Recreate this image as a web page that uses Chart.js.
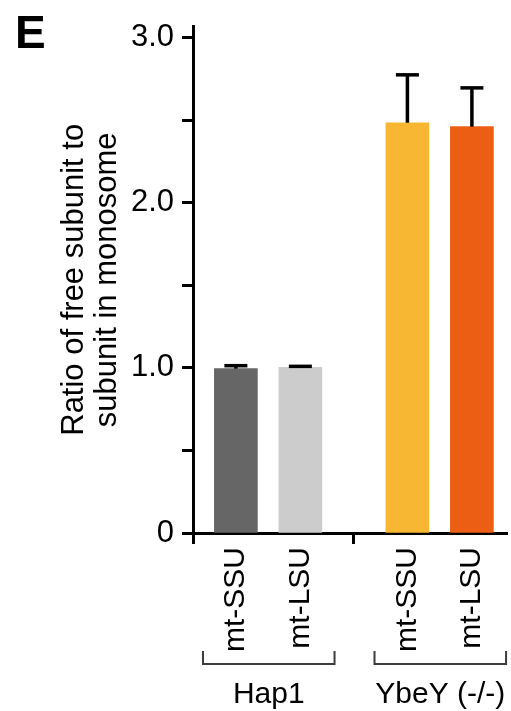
<!DOCTYPE html>
<html>
<head>
<meta charset="utf-8">
<script src="https://cdn.jsdelivr.net/npm/chart.js@4"></script>
<style>
  html, body { margin: 0; padding: 0; background: #fff; }
  #wrap { width: 511px; height: 711px; position: relative; }
</style>
</head>
<body>
<div id="wrap"><canvas id="c"></canvas></div>
<script>
// ---- data ----
const groups = ['Hap1', 'YbeY (-/-)'];
const subunits = ['mt-SSU', 'mt-LSU'];
const values = [0.995, 1.003, 2.484, 2.460];     // mean ratio
const errorsUp = [0.018, 0.006, 0.290, 0.235];   // upper error
const barColors = ['#666666', '#cccccc', '#f7b733', '#eb5e14'];
const yTickValues = [0, 0.5, 1.0, 1.5, 2.0, 2.5, 3.0];
const yTickLabels = ['0', '', '1.0', '', '2.0', '', '3.0'];
const yTitle = ['Ratio of free subunit to', 'subunit in monosome'];
const panelLetter = 'E';

// layout helpers (derived from structure)
const groupStride = 2.66;
const points = [];
groups.forEach((g, gi) => subunits.forEach((s, si) => {
  const i = gi * subunits.length + si;
  points.push({ x: gi * groupStride + si, y: values[i], label: s, group: gi });
}));
const barXs = points.map(p => p.x);
const midX = (barXs[1] + barXs[2]) / 2;
const X_MIN = -0.665, X_MAX = 4.21;
const FONT = '"Liberation Sans", Arial, Helvetica, sans-serif';

const isBarX = v => barXs.some(b => Math.abs(b - v) < 1e-6);

const extras = {
  id: 'extras',
  afterDatasetsDraw(chart) {
    const ctx = chart.ctx;
    const ys = chart.scales.y, xs = chart.scales.x;
    const meta = chart.getDatasetMeta(0);
    ctx.save();
    // error bars (upper only)
    ctx.strokeStyle = '#000';
    ctx.lineWidth = 3.5;
    ctx.lineCap = 'butt';
    meta.data.forEach((bar, i) => {
      const yTop = ys.getPixelForValue(values[i] + errorsUp[i]);
      ctx.beginPath();
      ctx.moveTo(bar.x, bar.y);
      ctx.lineTo(bar.x, yTop);
      ctx.stroke();
      ctx.beginPath();
      ctx.moveTo(bar.x - 11.5, yTop);
      ctx.lineTo(bar.x + 11.5, yTop);
      ctx.stroke();
    });
    // group brackets + labels
    const base = xs.bottom;
    ctx.strokeStyle = '#3c3c3c';
    ctx.lineWidth = 2;
    groups.forEach((g, gi) => {
      const members = points.filter(p => p.group === gi);
      const x0 = xs.getPixelForValue(members[0].x - 0.51);
      const x1 = xs.getPixelForValue(members[members.length - 1].x + 0.53);
      ctx.beginPath();
      ctx.moveTo(x0, base + 1);
      ctx.lineTo(x0, base + 14);
      ctx.lineTo(x1, base + 14);
      ctx.lineTo(x1, base + 1);
      ctx.stroke();
      ctx.fillStyle = '#000';
      ctx.font = '30px ' + FONT;
      ctx.textAlign = 'center';
      ctx.textBaseline = 'alphabetic';
      ctx.fillText(g, (x0 + x1) / 2, base + 53);
    });
    // panel letter
    ctx.font = 'bold 46px ' + FONT;
    ctx.textAlign = 'left';
    ctx.textBaseline = 'alphabetic';
    ctx.fillStyle = '#000';
    ctx.fillText(panelLetter, 15, 48);
    ctx.restore();
  }
};

new Chart(document.getElementById('c'), {
  type: 'bar',
  data: {
    datasets: [{
      data: points.map(p => ({ x: p.x, y: p.y })),
      backgroundColor: barColors,
      borderWidth: 0,
      barThickness: 43
    }]
  },
  options: {
    responsive: true,
    maintainAspectRatio: false,
    animation: false,
    layout: { padding: { left: 0, right: 1, top: 23, bottom: 61 } },
    plugins: { legend: { display: false }, tooltip: { enabled: false } },
    scales: {
      x: {
        type: 'linear',
        min: X_MIN,
        max: X_MAX,
        offset: false,
        afterBuildTicks(scale) {
          scale.ticks = [X_MIN, ...barXs, midX].sort((a, b) => a - b).map(v => ({ value: v }));
        },
        afterFit(scale) { scale.height = 117; },
        ticks: {
          autoSkip: false,
          minRotation: 90,
          maxRotation: 90,
          padding: 3,
          color: '#000',
          font: { family: FONT, size: 30 },
          callback(v) {
            const p = points.find(q => Math.abs(q.x - v) < 1e-6);
            return p ? p.label : '';
          }
        },
        grid: {
          offset: false,
          drawOnChartArea: false,
          drawTicks: true,
          tickLength: 11,
          tickWidth: 3,
          color: ctx => (ctx.tick && isBarX(ctx.tick.value)) ? 'rgba(0,0,0,0)' : '#000'
        },
        border: { display: true, color: '#000', width: 3 }
      },
      y: {
        min: 0,
        max: 3.066,
        afterBuildTicks(scale) {
          scale.ticks = yTickValues.map(v => ({ value: v }));
        },
        afterFit(scale) { scale.width = 193; },
        ticks: {
          padding: 8,
          color: '#000',
          font: { family: FONT, size: 31 },
          callback(v, i) { return yTickLabels[i]; }
        },
        grid: {
          drawOnChartArea: false,
          drawTicks: true,
          tickLength: 11,
          tickWidth: 3,
          color: '#000'
        },
        border: { display: true, color: '#000', width: 3 },
        title: {
          display: true,
          text: yTitle,
          color: '#000',
          font: { family: FONT, size: 31, lineHeight: 1.065 },
          padding: { top: 58, bottom: 4 }
        }
      }
    }
  },
  plugins: [extras]
});
</script>
</body>
</html>
